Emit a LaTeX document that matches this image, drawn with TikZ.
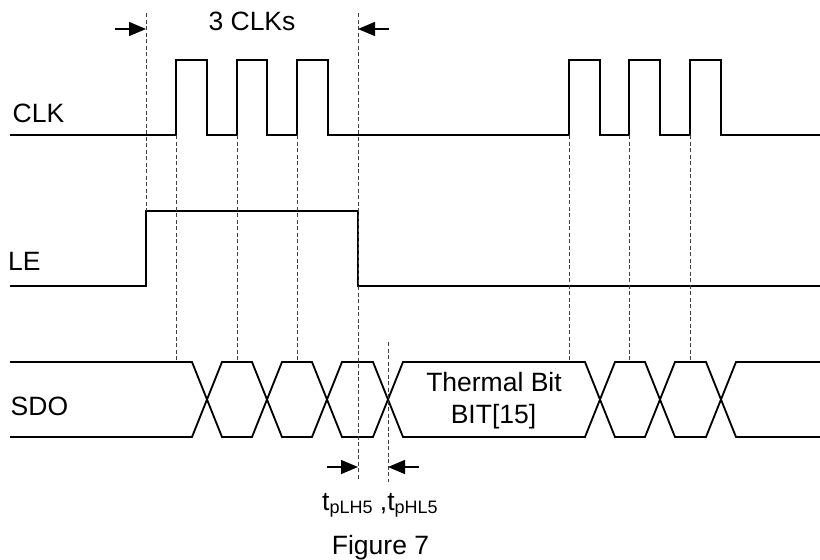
\documentclass[tikz,border=0pt]{standalone}
\usepackage{fontspec}
\setmainfont{Liberation Sans}
\usetikzlibrary{arrows.meta}
\tikzset{
  sig/.style={line width=1.8pt, line join=miter},
  guide/.style={line width=0.8pt, black!75, dash pattern=on 4pt off 2.5pt},
  dimarrow/.style={line width=1.4pt, -{Triangle[length=17pt,width=14pt]}},
  lbl/.style={inner sep=0pt, font=\fontsize{26.5}{30}\selectfont},
}
\begin{document}
\begin{tikzpicture}[x=1pt,y=-1pt]
\useasboundingbox (0,0) rectangle (820,560);

% CLK waveform
\draw[sig] (10,135) -- (176,135) -- (176,60) -- (207,60) -- (207,135)
  -- (237,135) -- (237,60) -- (267,60) -- (267,135)
  -- (297,135) -- (297,60) -- (328,60) -- (328,135)
  -- (569,135) -- (569,60) -- (600,60) -- (600,135)
  -- (629,135) -- (629,60) -- (660,60) -- (660,135)
  -- (690,135) -- (690,60) -- (721,60) -- (721,135) -- (820,135);

% LE waveform
\draw[sig] (10,286) -- (146,286) -- (146,211) -- (358,211) -- (358,286) -- (820,286);

% SDO waveform (two zigzag rails)
\draw[sig] (10,362) -- (192,362) -- (222,437) -- (252,437) -- (282,362)
  -- (312,362) -- (342,437) -- (373,437) -- (403,362)
  -- (585,362) -- (615,437) -- (645,437) -- (675,362)
  -- (706,362) -- (736,437) -- (820,437);
\draw[sig] (10,437) -- (192,437) -- (222,362) -- (252,362) -- (282,437)
  -- (312,437) -- (342,362) -- (373,362) -- (403,437)
  -- (585,437) -- (615,362) -- (645,362) -- (675,437)
  -- (706,437) -- (736,362) -- (820,362);

% guide line end points
\coordinate (g1t) at (146,13);  \coordinate (g1b) at (146,211);
\coordinate (g2t) at (176,135); \coordinate (g2b) at (176,362);
\coordinate (g3t) at (237,135); \coordinate (g3b) at (237,362);
\coordinate (g4t) at (297,135); \coordinate (g4b) at (297,362);
\coordinate (g5t) at (358,13);  \coordinate (g5b) at (358,479);
\coordinate (g6t) at (388,342); \coordinate (g6b) at (388,482);
\coordinate (g7t) at (569,135); \coordinate (g7b) at (569,362);
\coordinate (g8t) at (629,135); \coordinate (g8b) at (629,362);
\coordinate (g9t) at (690,135); \coordinate (g9b) at (690,362);
\foreach \i in {1,...,9} \draw[guide] (g\i t) -- (g\i b);

% dimension arrows
\coordinate (a1s) at (115,29);  \coordinate (a1e) at (146,29);
\coordinate (a2s) at (389,29);  \coordinate (a2e) at (358,29);
\coordinate (a3s) at (327,467); \coordinate (a3e) at (358,467);
\coordinate (a4s) at (419,467); \coordinate (a4e) at (388,467);
\foreach \i in {1,...,4} \draw[dimarrow] (a\i s) -- (a\i e);

% labels
\node[lbl, anchor=base] (clks) at (252,30) {3 CLKs};
\node[lbl, anchor=base west] (clk) at (12.5,122) {CLK};
\node[lbl, anchor=base west] (le) at (8,270.5) {LE};
\node[lbl, anchor=base west] (sdo) at (10.5,415) {SDO};
\node[lbl, anchor=base] (therm) at (494,391) {Thermal Bit};
\node[lbl, anchor=base] (bit) at (493.5,423) {BIT[15]};
\node[lbl, anchor=base west] (tp) at (322,510)
  {t\raisebox{-3pt}{\fontsize{18}{20}\selectfont pLH5} ,t\raisebox{-3pt}{\fontsize{18}{20}\selectfont pHL5}};
\node[lbl, anchor=base] (fig) at (380.5,554) {Figure 7};
\end{tikzpicture}
\end{document}
